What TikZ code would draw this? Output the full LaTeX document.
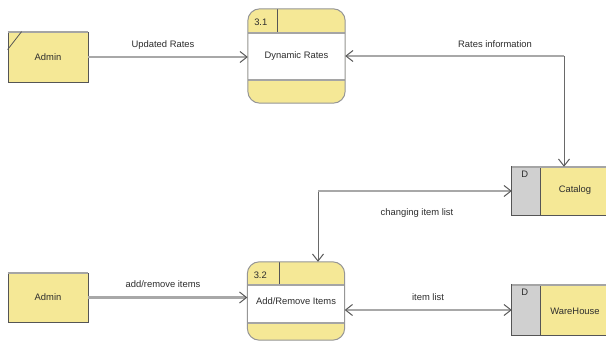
\documentclass[tikz,border=0pt]{standalone}
\usepackage{fontspec}
\setmainfont{Liberation Sans}
\usetikzlibrary{arrows.meta,calc,backgrounds}

\definecolor{dfdyellow}{RGB}{245,232,150}
\definecolor{storegrey}{RGB}{208,208,208}
\definecolor{edgedark}{RGB}{85,85,85}
\definecolor{procedge}{RGB}{150,150,150}
\definecolor{bandline}{RGB}{165,165,165}
\definecolor{flowlight}{RGB}{168,168,168}
\definecolor{flowdark}{RGB}{105,105,105}
\definecolor{tipgrey}{RGB}{90,90,90}
\definecolor{txt}{RGB}{45,45,45}

\tikzset{
  lbl/.style={font=\fontsize{9.4}{11}\selectfont, text=txt, inner sep=0pt},
  entity/.style={lbl, fill=dfdyellow, draw=edgedark, line width=0.8pt,
    minimum width=80pt, minimum height=50pt},
  process/.style={lbl, minimum width=97pt, inner sep=0pt},
  store/.style={lbl, minimum width=104pt, minimum height=48pt},
  flowtip/.tip={Straight Barb[length=7pt,width=11pt,line width=1pt,color=tipgrey]},
  hflow/.style={draw=flowlight, line width=2.8pt},
  vflow/.style={draw=flowdark, line width=1pt},
}

\begin{document}
\begin{tikzpicture}[x=1pt,y=-1pt]
\useasboundingbox (0,0) rectangle (606,350);
\begin{scope}[on background layer]
  \fill[white] (0,0) rectangle (606,350);
\end{scope}

% external entities
\node[entity] (a1) at (48,57) {Admin};
\draw[bandline, line width=2pt] (a1.north west) -- (a1.north east);
\draw[edgedark, line width=0.8pt] ($(a1.north west)+(0,18)$) -- ($(a1.north west)+(14,0)$);

\node[entity, minimum height=49pt] (a2) at (48,297.5) {Admin};
\draw[bandline, line width=2pt] (a2.north west) -- (a2.north east);

% processes
\node[process, minimum height=94pt] (p1) at (296.5,56) {\raisebox{-1.5pt}{Dynamic Rates}};
\node[process, minimum height=78pt] (p2) at (296,301) {\raisebox{-2.5pt}{Add/Remove Items}};

\begin{scope}[on background layer]
  % 3.1
  \fill[dfdyellow, rounded corners=12pt] (p1.north west) rectangle (p1.south east);
  \fill[white] ($(p1.north west)+(0,24)$) rectangle ($(p1.south east)+(0,-23)$);
  \draw[bandline, line width=2.2pt] ($(p1.north west)+(0.5,24)$) -- ($(p1.north east)+(-0.5,24)$);
  \draw[bandline, line width=2.2pt] ($(p1.south west)+(0.5,-23)$) -- ($(p1.south east)+(-0.5,-23)$);
  \draw[edgedark, line width=1pt] ($(p1.north west)+(30,0)$) -- ($(p1.north west)+(30,23)$);
  \draw[procedge, line width=1pt, rounded corners=12pt] (p1.north west) rectangle (p1.south east);
  % 3.2
  \fill[dfdyellow, rounded corners=12pt] (p2.north west) rectangle (p2.south east);
  \fill[white] ($(p2.north west)+(0,23)$) rectangle ($(p2.south east)+(0,-17)$);
  \draw[bandline, line width=2.2pt] ($(p2.north west)+(0.5,23)$) -- ($(p2.north east)+(-0.5,23)$);
  \draw[bandline, line width=2.2pt] ($(p2.south west)+(0.5,-17)$) -- ($(p2.south east)+(-0.5,-17)$);
  \draw[edgedark, line width=1pt] ($(p2.north west)+(32,0)$) -- ($(p2.north west)+(32,22)$);
  \draw[procedge, line width=1pt, rounded corners=12pt] (p2.north west) rectangle (p2.south east);
\end{scope}
\node[lbl] (n1) at ($(p1.north west)+(13,13)$) {3.1};
\node[lbl] (n2) at ($(p2.north west)+(13,13)$) {3.2};

% data stores
\node[store] (cat) at (564,191) {};
\node[store, minimum height=50pt] (wh) at (564,310) {};
\begin{scope}[on background layer]
  \foreach \s in {cat,wh}{
    \fill[dfdyellow] (\s.north west) rectangle (\s.south east);
    \fill[storegrey] (\s.north west) rectangle ($(\s.south west)+(29,0)$);
    \draw[edgedark, line width=0.8pt] (\s.north east) -- (\s.north west) -- (\s.south west) -- (\s.south east);
    \draw[edgedark, line width=0.8pt] ($(\s.north west)+(29,0)$) -- ($(\s.south west)+(29,0)$);
    \draw[bandline, line width=1.6pt] ($(\s.north west)+(0.5,0)$) -- (\s.north east);
  }
\end{scope}
\node[lbl] (d1) at ($(cat.north west)+(13,7)$) {D};
\node[lbl] (d2) at ($(wh.north west)+(13,7)$) {D};
\node[lbl] (catl) at (575,190) {Catalog};
\node[lbl] (whl) at (575,311) {WareHouse};

% data flows
\draw[hflow, -flowtip] (a1.east) -- (a1.east -| p1.west);
\node[lbl] (f1) at (163,45) {Updated Rates};

\coordinate (k1) at (cat.north |- p1.east);
\draw[vflow, -flowtip] (k1) -- (cat.north);
\draw[hflow, -flowtip] (k1) -- (p1.east);
\node[lbl] (f2) at (495,44) {Rates information};

\coordinate (t2) at ($(p2.north)+(22,0)$);
\coordinate (k2) at (t2 |- cat.west);
\draw[vflow, -flowtip] (k2) -- (t2);
\draw[hflow, -flowtip] (k2) -- (cat.west);
\node[lbl] (f3) at (417,213) {changing item list};

\draw[hflow, -flowtip] (a2.east) -- (a2.east -| p2.west);
\node[lbl] (f4) at (163,284) {add/remove items};

\draw[hflow, flowtip-flowtip] (wh.west -| p2.east) -- (wh.west);
\node[lbl] (f5) at (428,297) {item list};
\end{tikzpicture}
\end{document}
